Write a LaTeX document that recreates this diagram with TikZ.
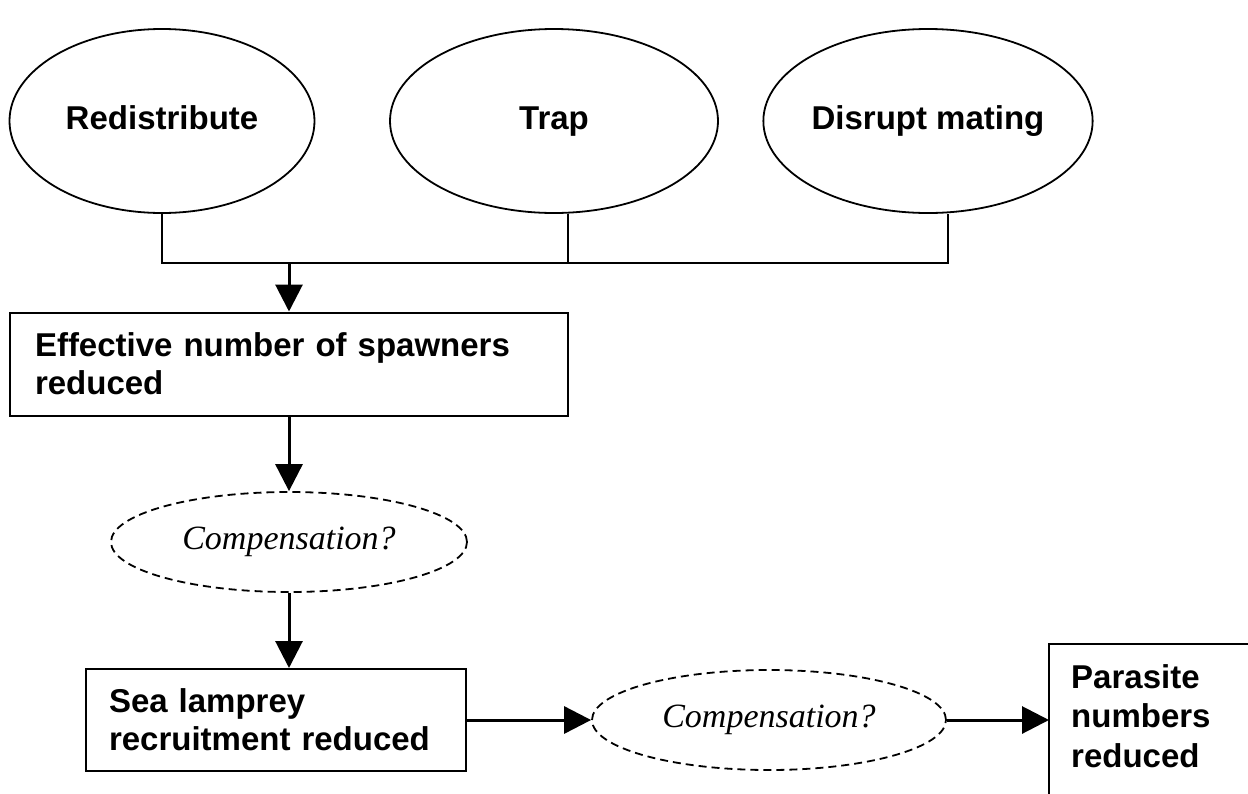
\documentclass[tikz,border=0pt]{standalone}
\usepackage{fontspec}
\setmainfont{Liberation Sans}
\newfontfamily\tmsfont{Liberation Serif}
\usetikzlibrary{shapes.geometric,arrows.meta}
\begin{document}
\begin{tikzpicture}[x=1pt,y=-1pt,
  lbl/.style={font=\fontsize{33}{38}\selectfont\bfseries},
  ell/.style={draw, ellipse, line width=1.8pt, inner sep=0pt, lbl, text height=24pt, text depth=7pt},
  dell/.style={draw, ellipse, line width=1.8pt, dash pattern=on 8pt off 5pt, inner sep=0pt,
    font=\fontsize{34}{38}\selectfont\tmsfont\itshape},
  box/.style={draw, rectangle, line width=2pt, lbl, align=left},
  boxline/.style={line width=2pt},
  conn/.style={line width=1.5pt},
  arr/.style={line width=3pt, -{Triangle[length=27pt,width=27pt]}},
]
\useasboundingbox (0,0) rectangle (1248,793);
\clip (0,0) rectangle (1248,793);
\fill[white] (0,0) rectangle (1248,793);

% top ellipses
\node[ell, minimum width=305pt, minimum height=184pt] (r) at (162,121) {Redistribute};
\node[ell, minimum width=328pt, minimum height=184pt] (t) at (554,121) {Trap};
\node[ell, minimum width=317pt, minimum height=184pt] (d) at (928,121) {Disrupt mating};

\coordinate (jl) at (162,263);
\coordinate (jm) at (568,263);
\coordinate (jr) at (948,263);
\coordinate (ja) at (289,263);

\draw[conn] (r.south) -- (jl) -- (jr) -- (jr |- d.south);
\draw[conn] (t.south -| jm) -- (jm);

% box 1
\node[box, minimum width=558pt, minimum height=103pt, text width=508pt, inner xsep=25pt, inner ysep=0pt] (b1) at (289,364)
  {Effective number of spawners\\reduced};
\draw[arr] (ja) -- (b1.north);

% dashed ellipse 1
\node[dell, minimum width=356pt, minimum height=100pt] (e1) at (289,542) {Compensation?};
\draw[arr] (b1.south) -- (e1.north);

% box 2
\node[box, minimum width=380pt, minimum height=102pt, text width=334pt, inner xsep=23pt, inner ysep=0pt] (b2) at (276,720)
  {Sea lamprey\\recruitment reduced};
\draw[arr] (e1.south) -- (e1.south |- b2.north);

% dashed ellipse 2
\node[dell, minimum width=354pt, minimum height=100pt] (e2) at (769,720) {Compensation?};
\draw[arr] (b2.east) -- (e2.west);

% parasite box (cut off at the page edge)
\node[lbl, align=left, anchor=north west, text width=200pt, inner xsep=22pt, inner ysep=20pt,
  font=\fontsize{33}{39.5}\selectfont\bfseries] (p) at (1049,644)
  {Parasite\\numbers\\reduced};
\draw[boxline] (p.north west) ++(0,200) -- (p.north west) -- ++(260,0);
\draw[arr] (e2.east) -- (e2.east -| p.west);
\end{tikzpicture}
\end{document}
